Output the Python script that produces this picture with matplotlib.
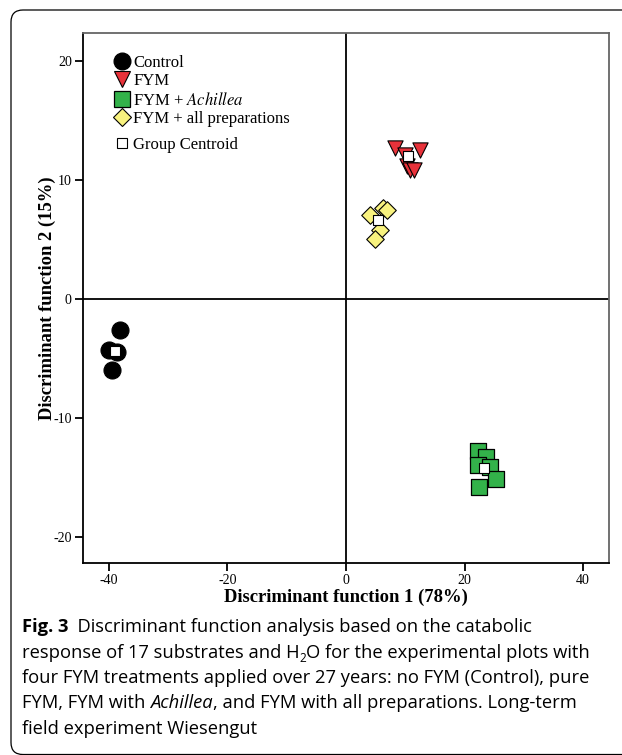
import matplotlib
matplotlib.use("Agg")
import matplotlib.pyplot as plt
from matplotlib.patches import FancyBboxPatch
from matplotlib.lines import Line2D

# discriminant scores
control_x = [-38.1, -39.9, -38.6, -39.5]
control_y = [-2.6, -4.3, -4.5, -6.0]
fym_x = [8.3, 12.5, 9.9, 10.3, 10.8, 11.5]
fym_y = [12.7, 12.5, 12.1, 11.2, 10.8, 10.8]
ach_x = [22.3, 23.7, 22.3, 24.3, 25.3, 22.5]
ach_y = [-12.75, -13.25, -13.95, -14.1, -15.1, -15.8]
allp_x = [6.3, 6.9, 4.0, 5.7, 4.9]
allp_y = [7.6, 7.5, 7.06, 5.8, 5.0]
cent_x = [-39.0, 10.5, 23.2, 5.45]
cent_y = [-4.35, 12.0, -14.2, 6.64]

labels = ["Control", "FYM", "FYM + $\\mathit{Achillea}$", "FYM + all preparations"]

plt.rcParams["mathtext.fontset"] = "stix"
plt.rcParams["axes.unicode_minus"] = False
serif = "Liberation Serif"
sans = "Open Sans"

fig = plt.figure(figsize=(6.22, 7.55), dpi=100)
ax = fig.add_axes([0.1334, 0.2543, 0.979 - 0.1334, 0.9563 - 0.2543])

ax.axhline(0, color="black", lw=1.3, zorder=1)
ax.axvline(0, color="black", lw=1.3, zorder=1)

ax.scatter(control_x, control_y, s=150, marker="o", c="black", edgecolors="black", lw=0.8, zorder=3)
ax.scatter(fym_x, fym_y, s=120, marker="v", c="#E8323A", edgecolors="black", lw=0.8, zorder=3)
ax.scatter(ach_x, ach_y, s=120, marker="s", c="#33B24A", edgecolors="black", lw=0.9, zorder=3)
ax.scatter(allp_x, allp_y, s=80, marker="D", c="#F8F27E", edgecolors="black", lw=0.8, zorder=3)
ax.scatter(cent_x, cent_y, s=50, marker="s", c="white", edgecolors="black", lw=0.8, zorder=4)

ax.set_xlim(-44.35, 44.35)
ax.set_ylim(-22.2, 22.35)
ax.set_xticks([-40, -20, 0, 20, 40])
ax.set_yticks([-20, -10, 0, 10, 20])
ax.tick_params(direction="out", length=6, width=1.3, labelsize=10, pad=2)
for lab in ax.get_xticklabels() + ax.get_yticklabels():
    lab.set_family(serif)
for sp in ["left", "bottom"]:
    ax.spines[sp].set_color("black")
    ax.spines[sp].set_linewidth(1.3)
for sp in ["top", "right"]:
    ax.spines[sp].set_color("#666666")
    ax.spines[sp].set_linewidth(1.3)

ax.set_xlabel("Discriminant function 1 (78%)", family=serif, weight="bold", fontsize=13.4, labelpad=1)
ax.set_ylabel("Discriminant function 2 (15%)", family=serif, weight="bold", fontsize=13.4, labelpad=-2)

handles = [
    Line2D([], [], ls="", marker="o", ms=12, mfc="black", mec="black"),
    Line2D([], [], ls="", marker="v", ms=11, mfc="#E8323A", mec="black", mew=0.8),
    Line2D([], [], ls="", marker="s", ms=11, mfc="#33B24A", mec="black", mew=0.9),
    Line2D([], [], ls="", marker="D", ms=9, mfc="#F8F27E", mec="black", mew=0.8),
]
leg = ax.legend(handles, labels, loc="upper left", bbox_to_anchor=(0.045, 0.975),
                frameon=False, prop={"family": serif, "size": 12},
                handlelength=0.8, handletextpad=0.3, labelspacing=0.15, borderpad=0)
ax.add_artist(leg)
h2 = [Line2D([], [], ls="", marker="s", ms=7, mfc="white", mec="black", mew=0.8)]
ax.legend(h2, ["Group Centroid"], loc="upper left", bbox_to_anchor=(0.045, 0.82),
          frameon=False, prop={"family": serif, "size": 12},
          handlelength=0.8, handletextpad=0.3, borderpad=0)

# outer rounded frame
box = FancyBboxPatch((0.11, 0.005), 6.6, 7.445, boxstyle="round,pad=0,rounding_size=0.12",
                     transform=fig.dpi_scale_trans, fill=False, ec="black", lw=0.9)
fig.add_artist(box)

# caption
cap_size = 13.2
x0 = 22 / 622
base = [(755 - 632) / 755 - i * 25.5 / 755 for i in range(5)]


def line(parts, y):
    prev = None
    for txt, kw in parts:
        style = dict(family=sans, fontsize=cap_size, va="baseline", ha="left")
        dy = kw.pop("dy", 0) if "dy" in kw else 0
        style.update(kw)
        if prev is None:
            prev = fig.text(x0, y + dy, txt, **style)
        else:
            prev = ax.annotate(txt, xy=(1, y + dy), xycoords=(prev, "figure fraction"),
                               annotation_clip=False, **style)


line([("Fig. 3", {"weight": "bold"}),
      ("  Discriminant function analysis based on the catabolic", {})], base[0])
line([("response of 17 substrates and H", {}), ("2", {"fontsize": cap_size * 0.65, "dy": -4 / 755}),
      ("O for the experimental plots with", {})], base[1])
line([("four FYM treatments applied over 27 years: no FYM (Control), pure", {})], base[2])
line([("FYM, FYM with ", {}), ("Achillea", {"style": "italic"}),
      (", and FYM with all preparations. Long-term", {})], base[3])
line([("field experiment Wiesengut", {})], base[4])

fig.savefig("out.png", dpi=100)
